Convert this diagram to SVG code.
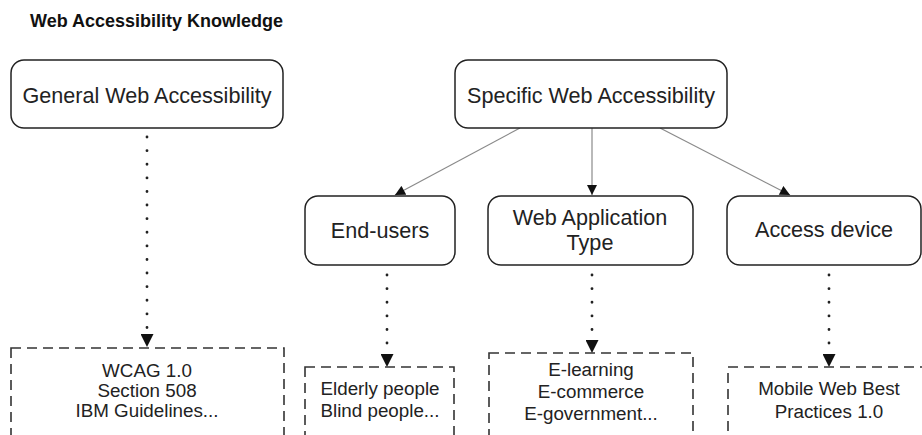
<svg xmlns="http://www.w3.org/2000/svg" width="922" height="435" viewBox="0 0 922 435">
  <style>
    .title { font-family: "Liberation Sans", Arial, sans-serif; font-size: 18px; font-weight: bold; fill: #111; }
    .node rect { fill: #fff; stroke: #222; stroke-width: 1.5; }
    .node text { font-family: "Liberation Sans", Arial, sans-serif; font-size: 21.6px; fill: #222; text-anchor: middle; }
    .item rect { fill: #fff; stroke: #333; stroke-width: 1.6; stroke-dasharray: 10 6; }
    .item text { font-family: "Liberation Sans", Arial, sans-serif; font-size: 18.8px; fill: #222; text-anchor: middle; }
    .link { stroke: #8a8a8a; stroke-width: 1.2; fill: none; marker-end: url(#arrowSmall); }
    .dots { stroke: #222; stroke-width: 2.8; fill: none; stroke-dasharray: 0.1 13.5; stroke-linecap: round; marker-end: url(#arrowBig); }
  </style>
  <defs>
    <marker id="arrowSmall" viewBox="0 0 10 10" refX="10" refY="5" markerWidth="11" markerHeight="10" markerUnits="userSpaceOnUse" orient="auto">
      <path d="M0,0 L10,5 L0,10 z" fill="#111"/>
    </marker>
    <marker id="arrowBig" viewBox="0 0 12 12" refX="12" refY="6" markerWidth="14" markerHeight="13" markerUnits="userSpaceOnUse" orient="auto">
      <path d="M0,0 L12,6 L0,12 z" fill="#111"/>
    </marker>
  </defs>

  <text class="title" x="30" y="27">Web Accessibility Knowledge</text>

  <!-- connectors -->
  <g id="connectors">
    <line class="link" x1="520" y1="128" x2="395" y2="195"/>
    <line class="link" x1="592" y1="128" x2="592" y2="195"/>
    <line class="link" x1="660" y1="128" x2="790" y2="195"/>
    <line class="dots" x1="147" y1="137" x2="147" y2="347"/>
    <line class="dots" x1="387" y1="275" x2="387" y2="367"/>
    <line class="dots" x1="592" y1="275" x2="592" y2="353"/>
    <line class="dots" x1="829" y1="275" x2="829" y2="367"/>
  </g>

  <!-- top-level categories -->
  <g id="general" class="node">
    <rect x="11" y="60" width="272" height="68" rx="13"/>
    <text x="147" y="103">General Web Accessibility</text>
  </g>
  <g id="specific" class="node">
    <rect x="455" y="60" width="272" height="68" rx="13"/>
    <text x="591" y="103">Specific Web Accessibility</text>
  </g>

  <!-- specific sub-categories -->
  <g id="end-users" class="node">
    <rect x="305" y="196" width="150" height="69" rx="13"/>
    <text x="380" y="238">End-users</text>
  </g>
  <g id="app-type" class="node">
    <rect x="488" y="196" width="205" height="69" rx="13"/>
    <text x="590" y="225">Web Application</text>
    <text x="590" y="250">Type</text>
  </g>
  <g id="access-device" class="node">
    <rect x="727" y="196" width="194" height="69" rx="13"/>
    <text x="824" y="237">Access device</text>
  </g>

  <!-- examples -->
  <g id="general-examples" class="item">
    <rect x="11" y="348" width="273" height="100"/>
    <text x="147" y="377">WCAG 1.0</text>
    <text x="147" y="397">Section 508</text>
    <text x="147" y="417">IBM Guidelines...</text>
  </g>
  <g id="user-examples" class="item">
    <rect x="305" y="367" width="149" height="80"/>
    <text x="380" y="395">Elderly people</text>
    <text x="380" y="417">Blind people...</text>
  </g>
  <g id="type-examples" class="item">
    <rect x="489" y="353" width="204" height="95"/>
    <text x="591" y="376">E-learning</text>
    <text x="591" y="398">E-commerce</text>
    <text x="591" y="420">E-government...</text>
  </g>
  <g id="device-examples" class="item">
    <rect x="728" y="367" width="200" height="80"/>
    <text x="829" y="395">Mobile Web Best</text>
    <text x="829" y="418">Practices 1.0</text>
  </g>
</svg>
